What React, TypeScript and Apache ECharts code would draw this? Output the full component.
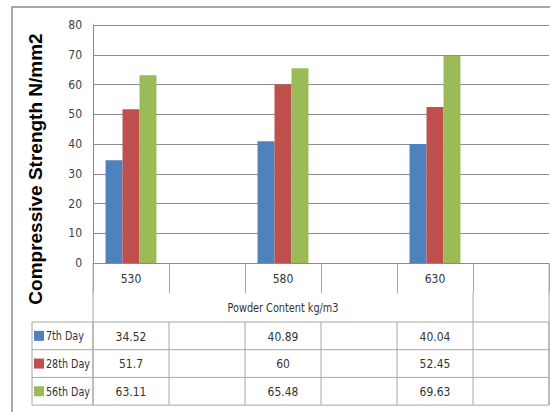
import React, { useEffect, useRef } from "react";
import * as echarts from "echarts";

const categories = ["530", "", "580", "", "630", ""];
const seriesNames = ["7th Day", "28th Day", "56th Day"];
const day7 = [34.52, null, 40.89, null, 40.04, null];
const day28 = [51.7, null, 60, null, 52.45, null];
const day56 = [63.11, null, 65.48, null, 69.63, null];
const yTicks = [0, 10, 20, 30, 40, 50, 60, 70, 80];
const yTitle = "Compressive Strength N/mm2";
const xTitle = "Powder Content kg/m3";

const colors = ["#4F81BD", "#C0504D", "#9BBB59"];
const FONT = "'DejaVu Sans Condensed', 'Liberation Sans', sans-serif";
const GRID = "#8a8a8a";
const TABLE = "#a6a6a6";
const TXT = "#333333";

export default function App() {
  const ref = useRef<HTMLDivElement>(null);
  useEffect(() => {
    if (!ref.current) return;
    const chart = echarts.init(ref.current, undefined, { renderer: "svg" });
    const allSeries = [day7, day28, day56];
    chart.setOption({
      animation: false,
      backgroundColor: "#ffffff",
      grid: { left: 93, right: 1, top: 25, bottom: 149, containLabel: false },
      xAxis: {
        type: "category",
        data: categories,
        axisLine: { show: true, lineStyle: { color: GRID, width: 1 } },
        axisTick: { show: true, length: 30, interval: 0, lineStyle: { color: TABLE } },
        axisLabel: { interval: 0, margin: 10, color: TXT, fontSize: 12, fontFamily: FONT },
      },
      yAxis: {
        type: "value",
        min: yTicks[0],
        max: yTicks[yTicks.length - 1],
        interval: 10,
        axisLine: { show: true, lineStyle: { color: GRID } },
        axisTick: { show: false },
        axisLabel: { margin: 11, color: "#404040", fontSize: 12, fontFamily: FONT },
        splitLine: { show: true, lineStyle: { color: GRID, width: 1 } },
      },
      series: allSeries.map((d, i) => ({
        name: seriesNames[i],
        type: "bar",
        data: d,
        barGap: "0%",
        barCategoryGap: "33%",
        itemStyle: { color: colors[i] },
      })),
    });

    const c0 = chart.convertToPixel({ xAxisIndex: 0 }, 0) as number;
    const c1 = chart.convertToPixel({ xAxisIndex: 0 }, 1) as number;
    const bw = c1 - c0;
    const yBase = chart.convertToPixel({ yAxisIndex: 0 }, 0) as number;
    const bounds: number[] = [];
    for (let i = 0; i <= categories.length; i++) bounds.push(c0 - bw / 2 + i * bw);
    const left = bounds[0];
    const right = bounds[bounds.length - 1];
    const tableLeft = 32;
    const rowCat = yBase + 30;
    const rowTitle = rowCat + 29;
    const rowH = 27.7;
    const rowTops = [rowTitle, rowTitle + rowH, rowTitle + 2 * rowH, rowTitle + 3 * rowH];

    const g: any[] = [];
    const line = (x1: number, y1: number, x2: number, y2: number, color = TABLE, w = 1) =>
      g.push({ type: "line", silent: true, z: 10, shape: { x1, y1, x2, y2 }, style: { stroke: color, lineWidth: w } });

    // outer border
    g.push({ type: "rect", silent: true, z: 0, shape: { x: 12, y: 7, width: 560, height: 420 }, style: { fill: "none", stroke: "#8c8c8c", lineWidth: 1.5 } });

    // table lines
    line(left, yBase, left, rowTops[3]);
    line(right, yBase, right, rowTops[3]);
    line(bounds[categories.length - 1], rowCat, bounds[categories.length - 1], rowTitle);
    rowTops.forEach((y) => line(tableLeft, y, right, y));
    line(tableLeft, rowTitle, tableLeft, rowTops[3]);
    bounds.forEach((x) => line(x, rowTitle, x, rowTops[3]));

    // x title
    g.push({
      type: "text", silent: true, z: 10, scaleX: 0.83,
      x: (left + bounds[categories.length - 1]) / 2, y: (rowCat + rowTitle) / 2,
      style: { text: xTitle, fill: TXT, font: `13px ${FONT}`, align: "center", verticalAlign: "middle" },
    });

    // y title
    g.push({
      type: "text", silent: true, z: 10, x: 35, y: 169, rotation: Math.PI / 2,
      style: { text: yTitle, fill: "#000000", font: `bold 19px 'Liberation Sans', Arial, sans-serif`, align: "center", verticalAlign: "middle" },
    });

    // rows
    allSeries.forEach((d, r) => {
      const cy = (rowTops[r] + rowTops[r + 1]) / 2;
      g.push({ type: "rect", silent: true, z: 10, shape: { x: 34, y: cy - 5, width: 10, height: 10 }, style: { fill: colors[r] } });
      g.push({
        type: "text", silent: true, z: 10, x: 46, y: cy, scaleX: 0.82,
        style: { text: seriesNames[r], fill: TXT, font: `13px ${FONT}`, align: "left", verticalAlign: "middle" },
      });
      d.forEach((v, i) => {
        if (v === null) return;
        g.push({
          type: "text", silent: true, z: 10, x: c0 + i * bw, y: cy, scaleX: 0.92,
          style: { text: String(v), fill: TXT, font: `13px ${FONT}`, align: "center", verticalAlign: "middle" },
        });
      });
    });

    chart.setOption({ graphic: g });
    return () => chart.dispose();
  }, []);
  return <div ref={ref} style={{ position: "fixed", left: 0, top: 0, width: 550, height: 412 }} />;
}
